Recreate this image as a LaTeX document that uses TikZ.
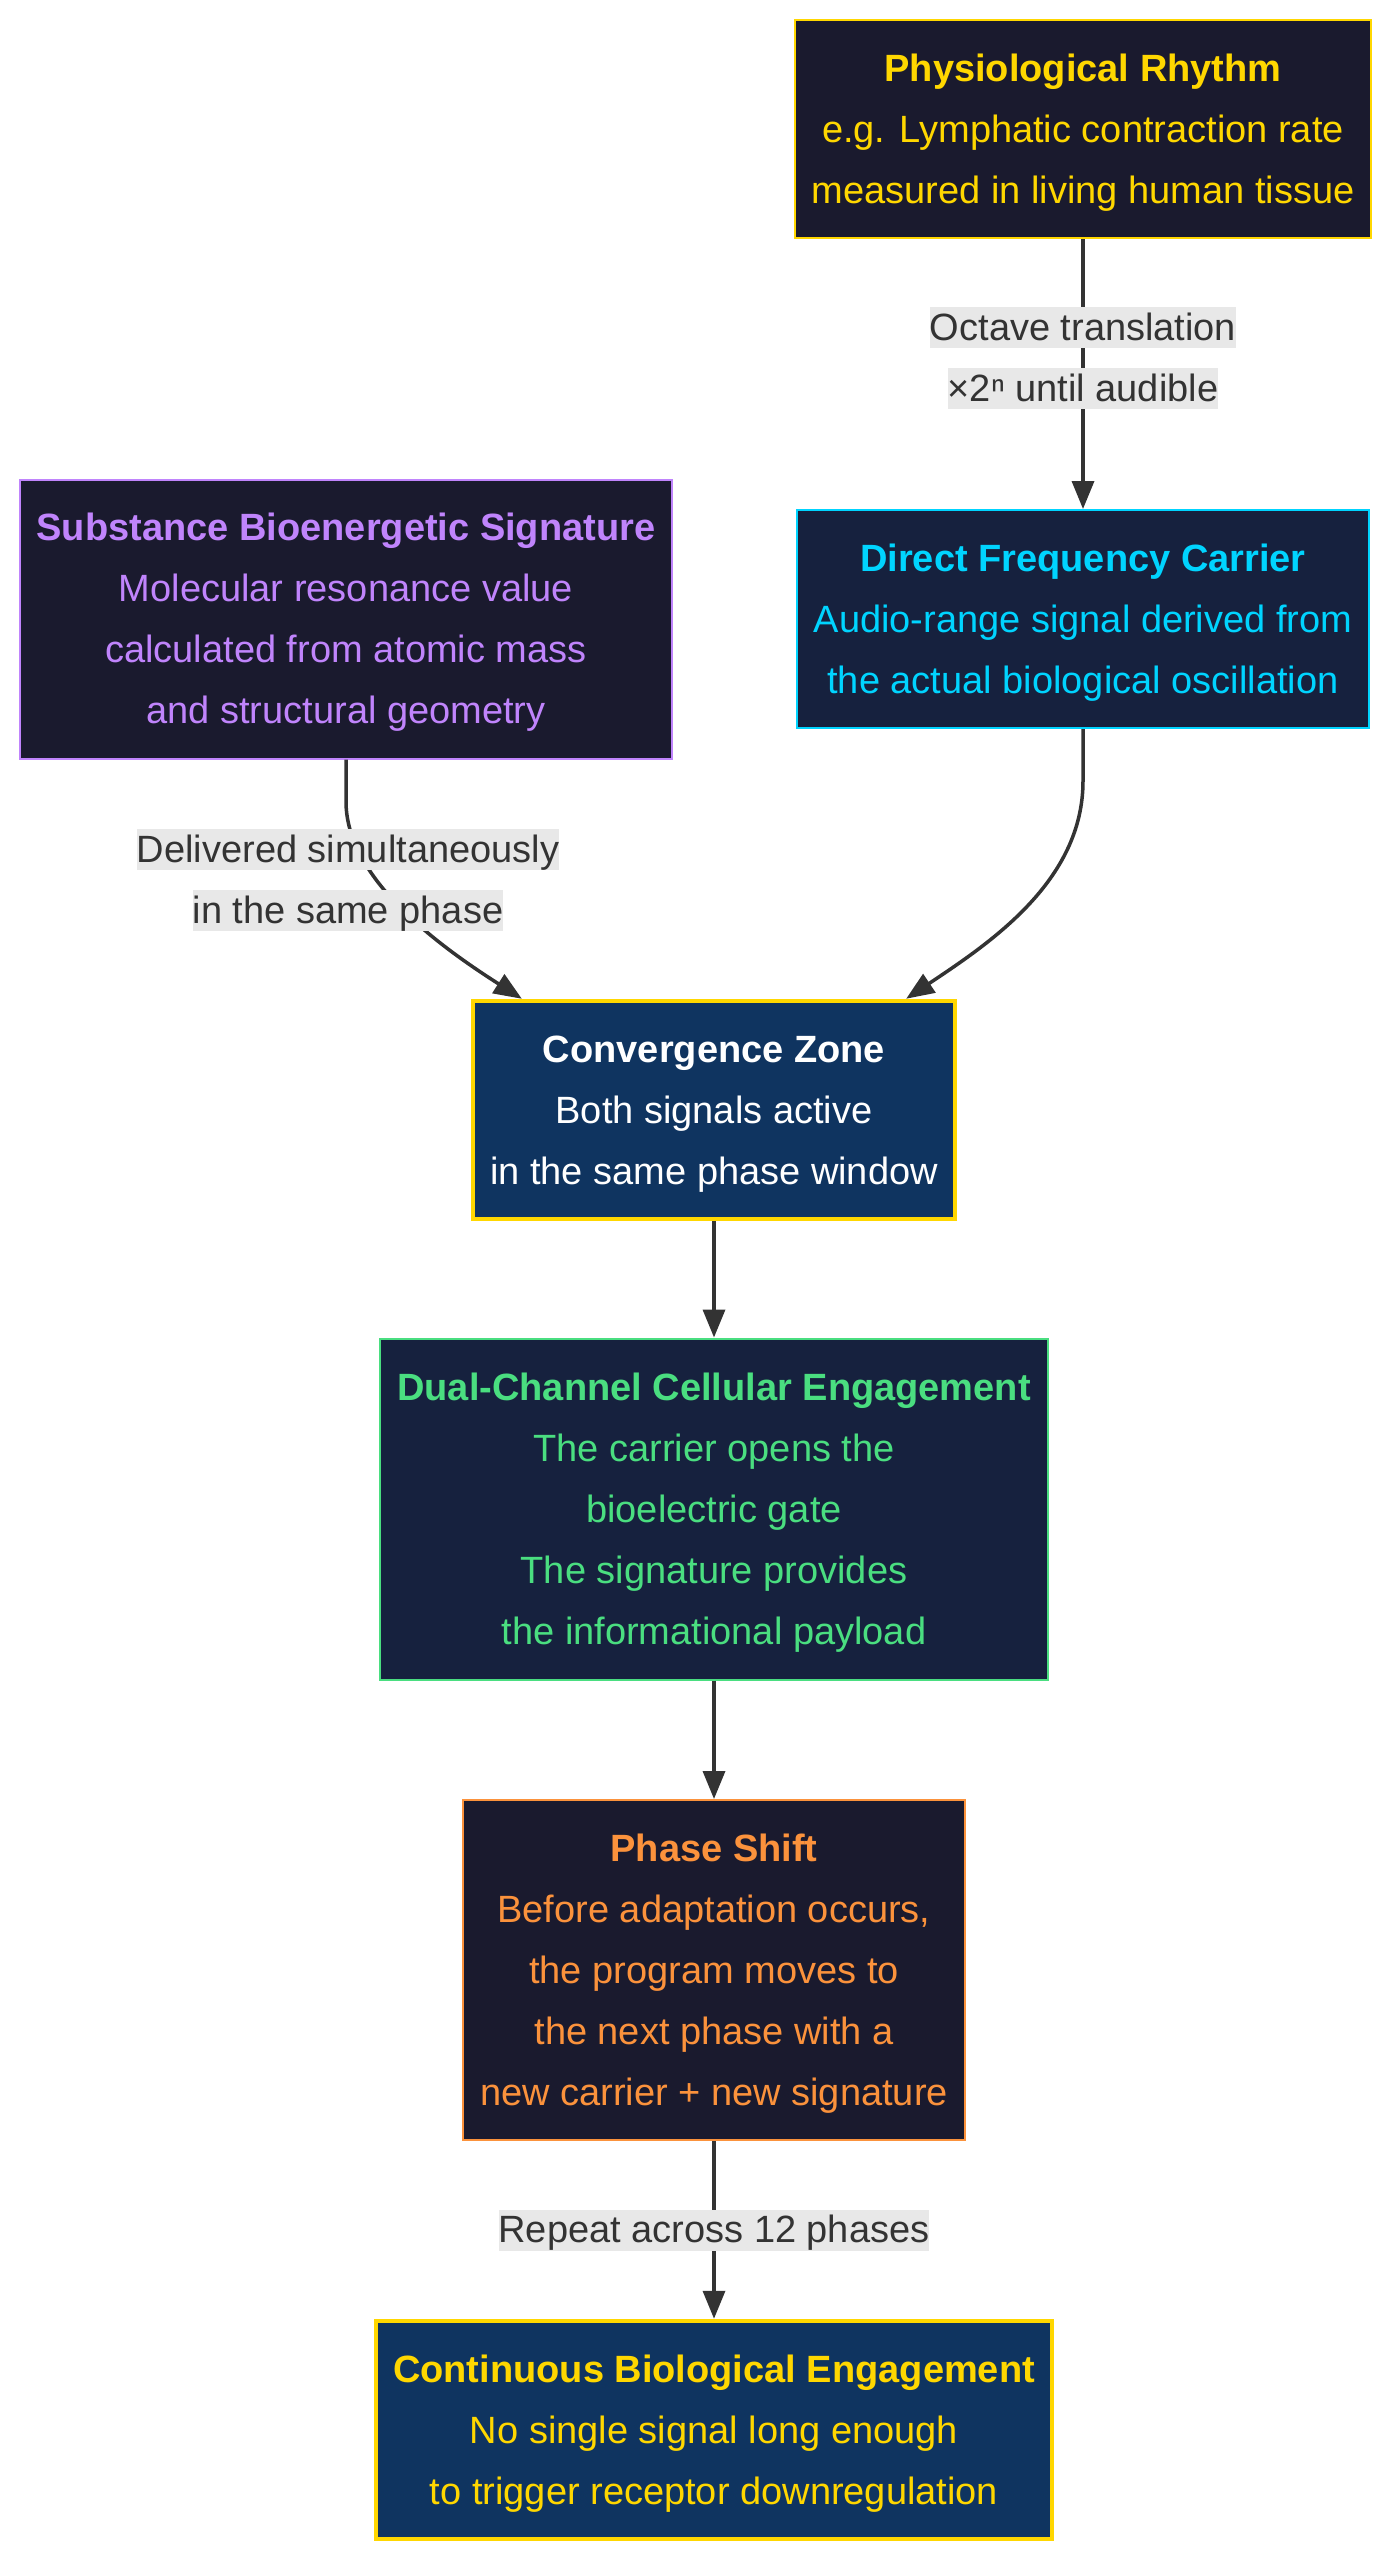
\documentclass[tikz,border=0pt]{standalone}
\usepackage{fontspec}
\setmainfont{Liberation Sans}
\usepackage{tikz}
\usetikzlibrary{arrows.meta}

\definecolor{gold}{HTML}{FFD700}
\definecolor{violet}{HTML}{C084FC}
\definecolor{cyanish}{HTML}{00D4FF}
\definecolor{mint}{HTML}{4ADE80}
\definecolor{amber}{HTML}{FB923C}
\definecolor{inkdark}{HTML}{1A1A2E}
\definecolor{inkblue}{HTML}{16213E}
\definecolor{deepblue}{HTML}{0F3460}
\definecolor{lblbg}{HTML}{E8E8E8}
\definecolor{lbltext}{HTML}{333333}
\definecolor{arrowgray}{HTML}{333333}

\setlength{\fboxsep}{0pt}
\newcommand{\lbl}[1]{\colorbox{lblbg}{\rule[-0.21em]{0pt}{1.08em}#1}}
\newcommand{\toprule}{\rule{0pt}{36pt}}
\newcommand{\botrule}{\rule[-9.5pt]{0pt}{9.5pt}}

\begin{document}
\begin{tikzpicture}[x=1pt, y=-1pt,
    box/.style={draw, line width=2pt, inner xsep=17pt, inner ysep=0pt, align=center, font=\fontsize{38pt}{61pt}\selectfont},
    thickbox/.style={box, line width=4.5pt},
    elabel/.style={inner sep=0pt, align=center, text=lbltext, font=\fontsize{38pt}{61pt}\selectfont},
    arr/.style={draw=arrowgray, line width=3.5pt, -{Triangle[length=28pt,width=22pt]}}]
    \fill[white] (0,0) rectangle (1393,2560);
    \useasboundingbox (0,0) rectangle (1393,2560);
    \node[box, fill=inkdark, draw=gold, text=gold, minimum height=218pt] (phys) at (1083,129) {\toprule\textbf{Physiological Rhythm}\\e.g. Lymphatic contraction rate\\measured in living human tissue\botrule};
    \node[box, fill=inkblue, draw=cyanish, text=cyanish, minimum height=218pt] (direct) at (1083,619) {\toprule\textbf{Direct Frequency Carrier}\\Audio-range signal derived from\\the actual biological oscillation\botrule};
    \node[box, fill=inkdark, draw=violet, text=violet, minimum height=279pt] (sub) at (346,619) {\toprule\textbf{Substance Bioenergetic Signature}\\Molecular resonance value\\calculated from atomic mass\\and structural geometry\botrule};
    \node[thickbox, fill=deepblue, draw=gold, text=white, minimum height=218pt] (conv) at (714,1110) {\toprule\textbf{Convergence Zone}\\Both signals active\\in the same phase window\botrule};
    \node[box, fill=inkblue, draw=mint, text=mint, minimum height=341pt] (dual) at (714,1509) {\toprule\textbf{Dual-Channel Cellular Engagement}\\The carrier opens the\\bioelectric gate\\The signature provides\\the informational payload\botrule};
    \node[box, fill=inkdark, draw=amber, text=amber, minimum height=340pt] (shift) at (714,1970) {\toprule\textbf{Phase Shift}\\Before adaptation occurs,\\the program moves to\\the next phase with a\\new carrier + new signature\botrule};
    \node[thickbox, fill=deepblue, draw=gold, text=gold, minimum height=218pt] (cont) at (714,2430) {\toprule\textbf{Continuous Biological Engagement}\\No single signal long enough\\to trigger receptor downregulation\botrule};

    \draw[arr] (phys.south) -- (direct.north);
    \draw[arr] (sub.south) -- ++(0,42) .. controls +(0,80) and +(-75,-48) .. ([xshift=51pt]conv.north west);
    \draw[arr] (direct.south) -- ++(0,52) .. controls +(0,100) and +(84,-56) .. ([xshift=-51pt]conv.north east);
    \draw[arr] (conv.south) -- (dual.north);
    \draw[arr] (dual.south) -- (shift.north);
    \draw[arr] (shift.south) -- (cont.north);

    \node[elabel] (octave) at (1083,358) {\lbl{Octave translation}\\\lbl{×2ⁿ until audible}};
    \node[elabel] (deliver) at (348,880) {\lbl{Delivered simultaneously}\\\lbl{in the same phase}};
    \node[elabel] (repeat) at (714,2230) {\lbl{Repeat across 12 phases}};
\end{tikzpicture}
\end{document}
